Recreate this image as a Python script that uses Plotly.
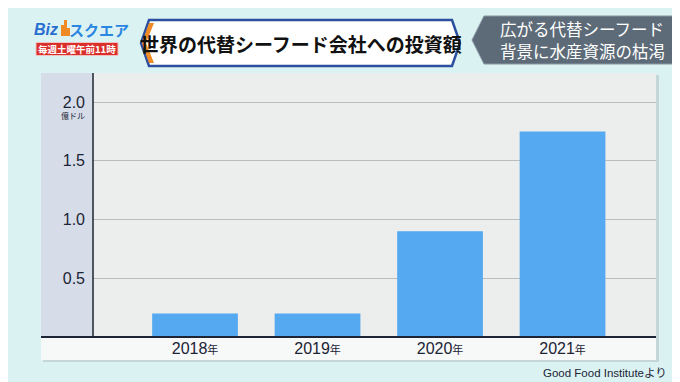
import plotly.graph_objects as go

# ---- data ----
years = ["2018", "2019", "2020", "2021"]
investment = [0.2, 0.2, 0.9, 1.75]          # 億ドル
y_ticks = [0.5, 1.0, 1.5, 2.0]
y_tick_labels = ["0.5", "1.0", "1.5", "2.0"]
unit_label = "億ドル"
title_text = "世界の代替シーフード会社への投資額"
side_lines = ["広がる代替シーフード", "背景に水産資源の枯渇"]
source_text = "Good Food Instituteより"

W, H = 680, 382
JP = "Noto Sans CJK JP"
NUM = "Liberation Sans"

def X(px):
    return px / W

def Y(py):
    return 1 - py / H

def path(pts):
    return "M" + " L".join(f"{X(a):.5f},{Y(b):.5f}" for a, b in pts) + " Z"

fig = go.Figure()

fig.add_trace(go.Bar(
    x=years, y=investment,
    marker=dict(color="#55a9f0", line=dict(width=0)),
    width=0.70, hoverinfo="skip",
))

# tick dots on the axis
fig.add_trace(go.Scatter(
    x=[-0.833] * len(y_ticks), y=y_ticks, mode="markers",
    marker=dict(color="#1c2435", size=5), cliponaxis=False, hoverinfo="skip",
))

shapes = []
# panel shadow + panel
shapes.append(dict(type="rect", xref="paper", yref="paper", x0=X(35), x1=X(651), y0=Y(354), y1=Y(67),
                   fillcolor="#c5d6d8", line=dict(width=0), layer="below"))
shapes.append(dict(type="rect", xref="paper", yref="paper", x0=X(33), x1=X(648), y0=Y(352), y1=Y(65),
                   fillcolor="#f7f8f8", line=dict(width=0), layer="below"))
shapes.append(dict(type="rect", xref="paper", yref="paper", x0=X(85), x1=X(648), y0=Y(329), y1=Y(65),
                   fillcolor="#eceeed", line=dict(width=0), layer="below"))
shapes.append(dict(type="rect", xref="paper", yref="paper", x0=X(33), x1=X(85), y0=Y(329), y1=Y(65),
                   fillcolor="#d6dde8", line=dict(width=0), layer="below"))
# axis lines
shapes.append(dict(type="line", xref="paper", yref="paper", x0=X(85), x1=X(85), y0=Y(329), y1=Y(65),
                   line=dict(color="#1c2435", width=1.5)))
shapes.append(dict(type="line", xref="paper", yref="paper", x0=X(33), x1=X(648), y0=Y(329), y1=Y(329),
                   line=dict(color="#1c2435", width=2)))

# logo
shapes.append(dict(type="rect", xref="paper", yref="paper", x0=X(28), x1=X(110), y0=Y(47.5), y1=Y(34.5),
                   fillcolor="#d9302c", line=dict(color="#f3c2c0", width=1)))
shapes.append(dict(type="path", xref="paper", yref="paper",
                   path=path([(53, 28), (53, 17), (56, 17), (56, 12), (59, 12), (59, 20), (62, 20), (62, 28)]),
                   fillcolor="#f08a24", line=dict(width=0)))
# title box
shapes.append(dict(type="path", xref="paper", yref="paper",
                   path=path([(141, 12), (444, 12), (452, 35), (444, 58), (141, 58), (133, 35)]),
                   fillcolor="#ffffff", line=dict(color="#2b4f9e", width=2.5)))
shapes.append(dict(type="path", xref="paper", yref="paper",
                   path=path([(141, 15), (146, 15), (138, 35), (146, 55), (141, 55), (134, 35)]),
                   fillcolor="#f08a24", line=dict(width=0)))
# right caption box
shapes.append(dict(type="path", xref="paper", yref="paper",
                   path=path([(476, 8), (674, 8), (674, 56), (476, 56), (464, 32)]),
                   fillcolor="#5d6b78", line=dict(color="#8a96a2", width=1)))

annotations = []
annotations.append(dict(x=X(65), y=Y(108), xref="paper", yref="paper", text=unit_label,
                        showarrow=False, xanchor="center", yanchor="middle",
                        font=dict(family=JP, size=8, color="#1c2435")))
annotations.append(dict(x=X(661), y=Y(365), xref="paper", yref="paper", text=source_text,
                        showarrow=False, xanchor="right", yanchor="middle",
                        font=dict(family=NUM + ", " + JP, size=11.5, color="#1c2435")))
annotations.append(dict(x=X(38), y=Y(21), xref="paper", yref="paper",
                        text="<b><i>Biz</i></b>",
                        showarrow=False, xanchor="center", yanchor="middle",
                        font=dict(family=NUM, size=16, color="#2a6fd0")))
annotations.append(dict(x=X(91), y=Y(21), xref="paper", yref="paper",
                        text="<b>スクエア</b>",
                        showarrow=False, xanchor="center", yanchor="middle",
                        font=dict(family=JP, size=15, color="#2a86e0")))
annotations.append(dict(x=X(69), y=Y(41), xref="paper", yref="paper", text="<b>毎週土曜午前11時</b>",
                        showarrow=False, xanchor="center", yanchor="middle",
                        font=dict(family=JP, size=9.5, color="#ffffff")))
annotations.append(dict(x=X(293), y=Y(35), xref="paper", yref="paper", text="<b>" + title_text + "</b>",
                        showarrow=False, xanchor="center", yanchor="middle",
                        font=dict(family=JP, size=19, color="#111111")))
for i, line in enumerate(side_lines):
    annotations.append(dict(x=X(574), y=Y(21 + 22 * i), xref="paper", yref="paper", text=line,
                            showarrow=False, xanchor="center", yanchor="middle",
                            font=dict(family=JP, size=16.5, color="#ffffff")))

fig.update_layout(
    width=W, height=H,
    margin=dict(l=0, r=0, t=0, b=0, autoexpand=False),
    paper_bgcolor="#dbf2f3",
    plot_bgcolor="rgba(0,0,0,0)",
    showlegend=False,
    shapes=shapes,
    annotations=annotations,
    xaxis=dict(
        domain=[X(85), X(648)],
        range=[-0.833, 3.763],
        tickvals=years,
        ticktext=[f"{y}<span style='font-size:11px'>年</span>" for y in years],
        tickfont=dict(family=NUM + ", " + JP, size=16, color="#1c2435"),
        showgrid=False, zeroline=False, showline=False, ticks="",
        ticklabelstandoff=0, automargin=False,
    ),
    yaxis=dict(
        domain=[Y(329), Y(65)],
        range=[0, (329 - 65) / 117.5],
        tickvals=y_ticks,
        ticktext=y_tick_labels,
        tickfont=dict(family=NUM, size=16, color="#1c2435"),
        showgrid=True, gridcolor="#b9bdbd", gridwidth=1,
        zeroline=False, showline=False, ticks="",
        ticklabelstandoff=7, automargin=False,
    ),
    bargap=0.3,
)

fig.write_html("out.html")
